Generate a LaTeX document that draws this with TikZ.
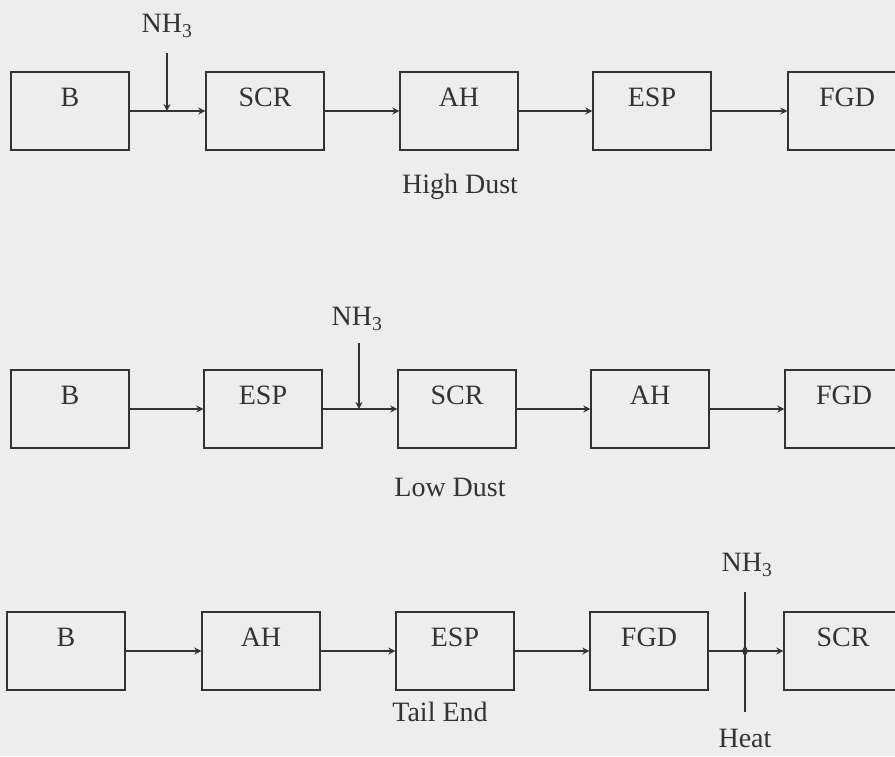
\documentclass[tikz,border=0pt]{standalone}
\usepackage{fontspec}
\setmainfont{Liberation Serif}
\usetikzlibrary{arrows.meta}
\definecolor{bg}{HTML}{EDEDED}
\definecolor{ink}{HTML}{333333}
\tikzset{
  box/.style={draw=ink, line width=1.4pt, minimum width=118pt, minimum height=78pt, inner sep=0pt},
  txt/.style={font=\fontsize{28}{30}\selectfont, text=ink, inner sep=0pt},
  arr/.style={draw=ink, line width=1.3pt, -{Stealth[length=7pt,width=7pt]}},
}
\newcommand{\blk}[5]{%
  \node[box] (#1) at (#2,#3) {};
  \node[txt] (#1t) at ([yshift=-26pt]#1.north) {#5};
}
\begin{document}
\begin{tikzpicture}[x=1pt,y=-1pt]
\fill[bg] (0,0) rectangle (895,756);
\useasboundingbox (0,0) rectangle (895,756);
% row 1
\blk{a1}{70}{111}{}{B}
\blk{a2}{265}{111}{}{SCR}
\blk{a3}{459}{111}{}{AH}
\blk{a4}{652}{111}{}{ESP}
\blk{a5}{847}{111}{}{FGD}
\draw[arr] (a1) -- (a2);
\draw[arr] (a2) -- (a3);
\draw[arr] (a3) -- (a4);
\draw[arr] (a4) -- (a5);
\coordinate (n1) at (167,53);
\draw[arr] (n1) -- (n1 |- a1.east);
\node[txt] (n1l) at (167,26) {NH\textsubscript{3}};
\node[txt] (t1) at (460,187) {High Dust};
% row 2
\blk{b1}{70}{409}{}{B}
\blk{b2}{263}{409}{}{ESP}
\blk{b3}{457}{409}{}{SCR}
\blk{b4}{650}{409}{}{AH}
\blk{b5}{844}{409}{}{FGD}
\draw[arr] (b1) -- (b2);
\draw[arr] (b2) -- (b3);
\draw[arr] (b3) -- (b4);
\draw[arr] (b4) -- (b5);
\coordinate (n2) at (359,343);
\draw[arr] (n2) -- (n2 |- b1.east);
\node[txt] (n2l) at (357,319) {NH\textsubscript{3}};
\node[txt] (t2) at (450,487) {Low Dust};
% row 3
\blk{c1}{66}{651}{}{B}
\blk{c2}{261}{651}{}{AH}
\blk{c3}{455}{651}{}{ESP}
\blk{c4}{649}{651}{}{FGD}
\blk{c5}{843}{651}{}{SCR}
\draw[arr] (c1) -- (c2);
\draw[arr] (c2) -- (c3);
\draw[arr] (c3) -- (c4);
\draw[arr] (c4) -- (c5);
\coordinate (n3) at (745,592);
\draw[arr] (n3) -- ([yshift=-6pt]n3 |- c1.east);
\coordinate (h3) at (745,712);
\draw[arr] (h3) -- ([yshift=6pt]h3 |- c1.east);
\node[txt] (n3l) at (747,565) {NH\textsubscript{3}};
\node[txt] (h3l) at (745,738) {Heat};
\node[txt] (t3) at (440,712) {Tail End};
\end{tikzpicture}
\end{document}
